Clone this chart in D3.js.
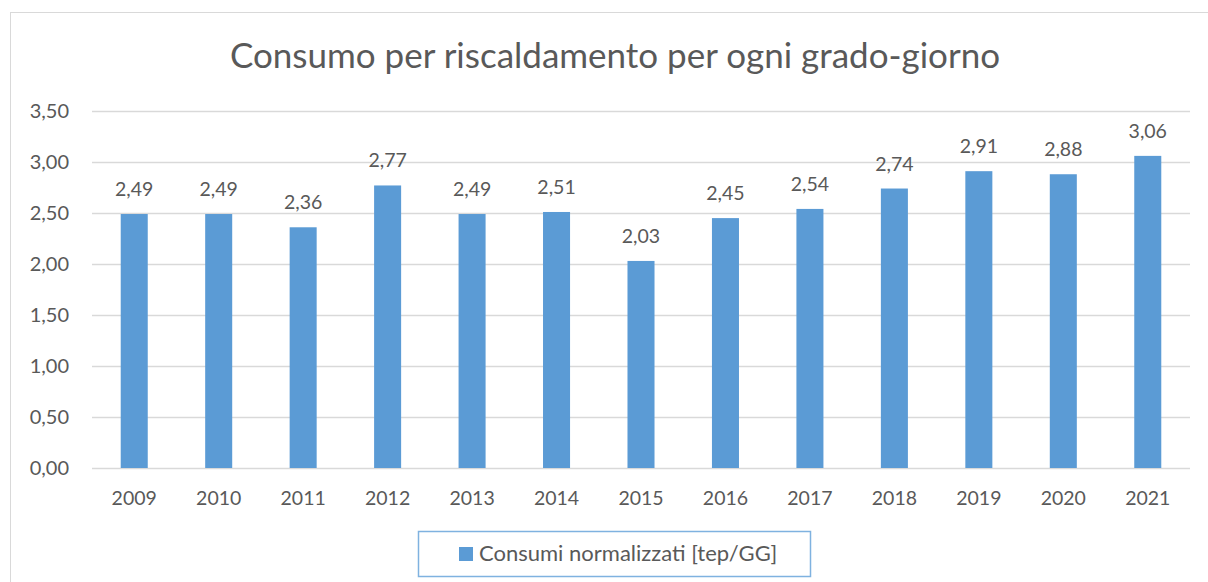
<!DOCTYPE html>
<html>
<head>
<meta charset="utf-8">
<script src="https://cdn.jsdelivr.net/npm/d3@7"></script>
<style>
  body { margin: 0; background: #fff; }
  text { font-family: Lato, "Open Sans", sans-serif; fill: #595959; }
</style>
</head>
<body>
<script>
// chart data
var years = ["2009", "2010", "2011", "2012", "2013", "2014", "2015", "2016", "2017", "2018", "2019", "2020", "2021"];
var consumi = [2.49, 2.49, 2.36, 2.77, 2.49, 2.51, 2.03, 2.45, 2.54, 2.74, 2.91, 2.88, 3.06];
var yTicks = [0, 0.5, 1, 1.5, 2, 2.5, 3, 3.5];
var title = "Consumo per riscaldamento per ogni grado-giorno";
var seriesName = "Consumi normalizzati [tep/GG]";

var w = 1208, h = 582;
var margin = {left: 92, right: 18, top: 111, bottom: 114};
var barColor = "#5B9BD5";
var fmt = function(v) { return d3.format(".2f")(v).replace(".", ","); };

var svg = d3.select("body").append("svg")
    .attr("width", w)
    .attr("height", h);

// outer chart border
svg.append("rect")
    .attr("x", 10.5).attr("y", 12.5)
    .attr("width", 1210).attr("height", 600)
    .attr("fill", "none")
    .attr("stroke", "#D9D9D9");

var x = d3.scaleBand()
    .domain(years)
    .range([margin.left, w - margin.right])
    .paddingInner(0.68)
    .paddingOuter(0.34);

var y = d3.scaleLinear()
    .domain([0, 3.5])
    .range([h - margin.bottom, margin.top]);

// gridlines
svg.append("g")
    .selectAll("line")
    .data(yTicks)
    .enter()
    .append("line")
    .attr("x1", margin.left)
    .attr("x2", w - margin.right)
    .attr("y1", d => Math.round(y(d)) + 0.5)
    .attr("y2", d => Math.round(y(d)) + 0.5)
    .attr("stroke", "#D9D9D9")
    .attr("stroke-width", 1.5);

// y axis labels
var yAxis = d3.axisLeft(y).tickValues(yTicks).tickFormat(fmt).tickSize(0).tickPadding(23);
var ya = svg.append("g")
    .attr("transform", "translate(" + margin.left + ",0)")
    .call(yAxis);
ya.select(".domain").remove();
ya.selectAll("text")
    .attr("font-size", "20px")
    .style("font-family", "Lato, sans-serif")
    .attr("fill", "#595959");

// x axis labels
var xAxis = d3.axisBottom(x).tickSize(0).tickPadding(23);
var xa = svg.append("g")
    .attr("transform", "translate(0," + (h - margin.bottom) + ")")
    .call(xAxis);
xa.select(".domain").remove();
xa.selectAll("text")
    .attr("font-size", "19.5px")
    .style("font-family", "Lato, sans-serif")
    .attr("fill", "#595959");

// bars
svg.append("g")
    .selectAll("rect")
    .data(consumi)
    .enter()
    .append("rect")
    .attr("x", (d, i) => x(years[i]))
    .attr("width", x.bandwidth())
    .attr("y", d => y(d))
    .attr("height", d => y(0) - y(d))
    .attr("fill", barColor);

// value labels
svg.append("g")
    .selectAll("text")
    .data(consumi)
    .enter()
    .append("text")
    .attr("x", (d, i) => x(years[i]) + x.bandwidth() / 2)
    .attr("y", d => y(d) - 18)
    .attr("text-anchor", "middle")
    .attr("font-size", "19.5px")
    .text(fmt);

// title
svg.append("text")
    .attr("x", 615)
    .attr("y", 68)
    .attr("text-anchor", "middle")
    .attr("font-size", "35px")
    .text(title);

// legend
var legend = svg.append("g");
legend.append("rect")
    .attr("x", 418.5).attr("y", 531.5)
    .attr("width", 392).attr("height", 45)
    .attr("fill", "#fff")
    .attr("stroke", "#7FB2E0")
    .attr("stroke-width", 1.5);
legend.append("rect")
    .attr("x", 459).attr("y", 547)
    .attr("width", 14).attr("height", 14)
    .attr("fill", barColor);
legend.append("text")
    .attr("x", 479)
    .attr("y", 561)
    .attr("font-size", "22px")
    .text(seriesName);
</script>
</body>
</html>
